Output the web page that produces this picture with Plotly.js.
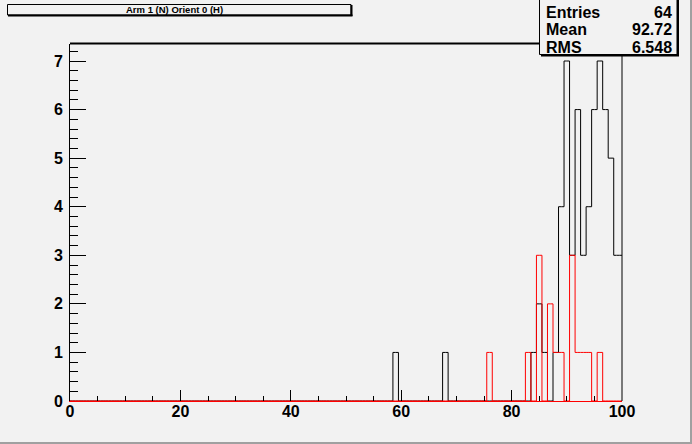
<!DOCTYPE html>
<html><head><meta charset="utf-8">
<script src="https://cdn.plot.ly/plotly-3.0.1.min.js"></script>
<style>html,body{margin:0;padding:0;background:#f2f2f2;}#chart{width:692px;height:444px;}</style>
</head><body><div id="chart"></div>
<script>
// ---- data (bin centres and counts) ----
const binFirst = 0;
const binLast = 100;
const blackBins   = [59, 68, 84, 85, 86, 88, 89, 90, 91, 92, 93, 94, 95, 96, 97, 98, 99, 100];
const blackCounts = [ 1,  1,  1,  2,  1,  1,  4,  7,  3,  6,  3,  4,  6,  7,  6,  5,  3,   3];
const redBins     = [76, 83, 85, 87, 88, 89, 91, 92, 93, 94, 96];
const redCounts   = [ 1,  1,  3,  2,  1,  1,  3,  1,  1,  1,  1];
const titleText = 'Arm 1 (N) Orient 0 (H)';
const statLabels = ['Entries', 'Mean', 'RMS'];
const statValues = ['64', '92.72', '6.548'];
const xTickVals = [0, 20, 40, 60, 80, 100];
const yTickVals = [0, 1, 2, 3, 4, 5, 6, 7];

// ---- build full histograms ----
function fullHist(bins, counts) {
  const xs = [], ys = [];
  for (let b = binFirst; b <= binLast; b++) { xs.push(b); ys.push(0); }
  bins.forEach((b, i) => { ys[b - binFirst] = counts[i]; });
  return {xs, ys};
}
const hb = fullHist(blackBins, blackCounts);
const hr = fullHist(redBins, redCounts);

// pixel helpers (plot area: x 70..622, y 44..401)
const L = 70, R = 622, T = 44, B = 401;
const W = 692, H = 444;
const px = v => (v - L) / (R - L);
const py = v => (B - v) / (B - T);

const traces = [
  {x: hb.xs, y: hb.ys, type: 'scatter', mode: 'lines', line: {shape: 'hvh', color: '#000000', width: 1}, hoverinfo: 'skip'},
  {x: hr.xs, y: hr.ys, type: 'scatter', mode: 'lines', line: {shape: 'hvh', color: '#ff0000', width: 1}, hoverinfo: 'skip'}
];

const tickFont = {family: 'Liberation Sans, Arial, sans-serif', size: 16, color: '#000', weight: 'bold'};
const shapes = [
  // frame top and right
  {type: 'line', xref: 'paper', yref: 'paper', x0: 0, x1: 1, y0: py(43.5), y1: py(43.5), line: {color: '#000', width: 2}},
  {type: 'line', xref: 'paper', yref: 'paper', x0: px(622), x1: px(622), y0: 0, y1: 1, line: {color: '#000', width: 1}},
  // title box
  {type: 'rect', xref: 'paper', yref: 'paper', x0: px(7.5), x1: px(351), y0: py(4.5), y1: py(15), line: {color: '#000', width: 1}, fillcolor: '#f2f2f2'},
  {type: 'line', xref: 'paper', yref: 'paper', x0: px(351.5), x1: px(351.5), y0: py(5), y1: py(16), line: {color: '#000', width: 2}},
  {type: 'line', xref: 'paper', yref: 'paper', x0: px(8), x1: px(352.5), y0: py(15.5), y1: py(15.5), line: {color: '#000', width: 2}},
  // stats box
  {type: 'rect', xref: 'paper', yref: 'paper', x0: px(539.5), x1: px(677), y0: py(-1), y1: py(54.5), line: {color: '#000', width: 1}, fillcolor: '#f2f2f2'},
  {type: 'line', xref: 'paper', yref: 'paper', x0: px(678), x1: px(678), y0: py(0), y1: py(56), line: {color: '#000', width: 2}},
  {type: 'line', xref: 'paper', yref: 'paper', x0: px(541), x1: px(679), y0: py(55.5), y1: py(55.5), line: {color: '#000', width: 2}},
  // canvas bevel
  {type: 'line', xref: 'paper', yref: 'paper', x0: px(0), x1: px(692), y0: py(443), y1: py(443), line: {color: '#a0a0a0', width: 2}},
  {type: 'line', xref: 'paper', yref: 'paper', x0: px(691), x1: px(691), y0: py(0), y1: py(444), line: {color: '#a0a0a0', width: 2}}
];

const annotations = [
  {xref: 'paper', yref: 'paper', x: px(174), y: py(10), text: titleText, showarrow: false, xanchor: 'center', yanchor: 'middle',
   font: {family: 'Liberation Sans, Arial, sans-serif', size: 9.5, color: '#000', weight: 'bold'}}
];
const rowY = [12, 30, 47.5];
statLabels.forEach((s, i) => {
  annotations.push({xref: 'paper', yref: 'paper', x: px(544), y: py(rowY[i]), text: s, showarrow: false, xanchor: 'left', yanchor: 'middle',
    font: {family: 'Liberation Sans, Arial, sans-serif', size: 16, color: '#000', weight: 'bold'}});
  annotations.push({xref: 'paper', yref: 'paper', x: px(674), y: py(rowY[i]), text: statValues[i], showarrow: false, xanchor: 'right', yanchor: 'middle',
    font: {family: 'Liberation Sans, Arial, sans-serif', size: 16, color: '#000', weight: 'bold'}});
});

const layout = {
  width: W, height: H,
  margin: {l: L, r: W - R, t: T, b: H - B, pad: 0},
  paper_bgcolor: '#f2f2f2', plot_bgcolor: '#f2f2f2',
  showlegend: false,
  xaxis: {range: [0, 100], tickvals: xTickVals, ticks: 'inside', ticklen: 11, tickwidth: 1, tickcolor: '#000',
          minor: {dtick: 5, ticks: 'inside', ticklen: 5.5, tickcolor: '#000', tickwidth: 1},
          showgrid: false, zeroline: false, showline: true, linecolor: '#ff0000', linewidth: 1,
          tickfont: tickFont, ticklabelstandoff: -4, fixedrange: true},
  yaxis: {range: [0, 7.35], tickvals: yTickVals, ticks: 'inside', ticklen: 16, tickwidth: 1, tickcolor: '#000',
          minor: {dtick: 0.2, ticks: 'inside', ticklen: 8, tickcolor: '#000', tickwidth: 1},
          showgrid: false, zeroline: false, showline: true, linecolor: '#000', linewidth: 1,
          tickfont: tickFont, ticklabelstandoff: 3, fixedrange: true},
  shapes: shapes,
  annotations: annotations
};

Plotly.newPlot('chart', traces, layout, {displayModeBar: false, staticPlot: true});
</script>
</body></html>
